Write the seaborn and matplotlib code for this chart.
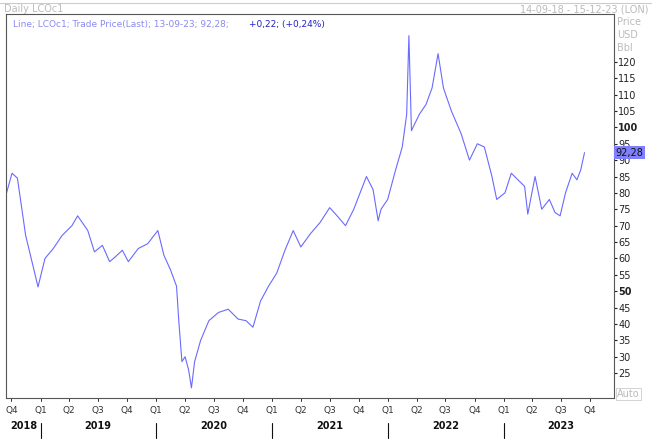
import matplotlib
matplotlib.use("Agg")
import matplotlib.pyplot as plt
import matplotlib.dates as mdates
import matplotlib.transforms as mtrans
import seaborn as sns
import pandas as pd
import numpy as np

# Hand-read values (date, price) from the reference
dates = ["2018-09-14", "2018-10-03", "2018-10-20", "2018-11-15", "2018-11-30", "2018-12-24",
         "2019-01-15", "2019-02-10", "2019-03-10", "2019-04-10", "2019-04-28", "2019-05-30",
         "2019-06-20", "2019-07-15", "2019-08-07", "2019-08-25", "2019-09-16", "2019-10-05",
         "2019-11-05", "2019-12-05", "2020-01-06", "2020-01-25", "2020-02-15", "2020-03-05",
         "2020-03-12", "2020-03-22", "2020-04-01", "2020-04-12", "2020-04-21", "2020-05-01",
         "2020-05-20", "2020-06-15", "2020-07-15", "2020-08-15", "2020-09-15", "2020-10-10",
         "2020-11-01", "2020-11-25", "2020-12-20", "2021-01-15", "2021-02-10", "2021-03-08",
         "2021-04-01", "2021-05-01", "2021-06-01", "2021-07-01", "2021-07-20", "2021-08-20",
         "2021-09-15", "2021-10-25", "2021-11-15", "2021-12-01", "2021-12-10", "2021-12-31",
         "2022-01-25", "2022-02-15", "2022-03-01", "2022-03-08", "2022-03-16", "2022-04-10",
         "2022-05-01", "2022-05-20", "2022-06-08", "2022-06-25", "2022-07-20", "2022-08-20",
         "2022-09-15", "2022-10-10", "2022-11-01", "2022-11-25", "2022-12-10", "2023-01-05",
         "2023-01-25", "2023-02-15", "2023-03-08", "2023-03-18", "2023-04-10", "2023-05-01",
         "2023-05-25", "2023-06-12", "2023-06-28", "2023-07-15", "2023-08-05", "2023-08-20",
         "2023-09-01", "2023-09-13"]
prices = [79.4, 86.0, 84.5, 67.0, 61.0, 51.3, 60.0, 63.0, 67.0, 70.0, 73.0, 68.5,
          62.0, 64.0, 59.0, 60.5, 62.5, 59.0, 63.0, 64.5, 68.5, 61.0, 56.5, 51.5,
          41.0, 28.5, 30.0, 26.0, 20.5, 28.5, 35.0, 41.0, 43.5, 44.5, 41.5, 41.0,
          39.0, 47.0, 51.5, 55.5, 62.5, 68.5, 63.5, 67.5, 71.0, 75.5, 73.5, 70.0,
          75.0, 85.0, 81.0, 71.5, 75.0, 78.0, 87.0, 94.0, 104.0, 128.0, 99.0, 104.0,
          107.0, 112.0, 122.5, 112.0, 105.0, 98.0, 90.0, 95.0, 94.0, 85.0, 78.0, 80.0,
          86.0, 84.0, 82.0, 73.5, 85.0, 75.0, 78.0, 74.0, 73.0, 80.0, 86.0, 84.0,
          87.0, 92.28]

df = pd.DataFrame({"date": pd.to_datetime(dates), "price": prices})

sns.set_style("white")
plt.rcParams["font.family"] = ["DejaVu Sans"]
fig = plt.figure(figsize=(6.52, 4.4), dpi=100)
ax = fig.add_axes([6 / 652, 1 - 398 / 440, 608 / 652, 384 / 440])
sns.lineplot(data=df, x="date", y="price", ax=ax, color="#6a6aff", linewidth=0.8)

ax.set_xlim(pd.Timestamp("2018-09-14"), pd.Timestamp("2023-12-15"))
ax.set_ylim(17.4, 134.6)
for s in ax.spines.values():
    s.set_color("#555555")
    s.set_linewidth(0.8)
ax.set_xlabel("")
ax.set_ylabel("")

# right price axis
ax.yaxis.tick_right()
yt = list(range(25, 125, 5))
ax.set_yticks(yt)
ax.set_yticklabels([str(v) for v in yt], fontsize=7)
for lab, v in zip(ax.get_yticklabels(), yt):
    if v in (50, 100):
        lab.set_fontweight("bold")
ax.tick_params(axis="y", length=2, pad=1, colors="#222222", direction="out", left=False, right=True)
ax.text(1.005, 0.0, "", transform=ax.transAxes)
ax.annotate("92,28", xy=(1.0, 92.28), xycoords=("axes fraction", "data"), xytext=(1, 0),
            textcoords="offset points", va="center", ha="left", fontsize=7, color="#111111",
            bbox=dict(boxstyle="square,pad=0.15", fc="#8080ff", ec="none"))
for i, t in enumerate(["Price", "USD", "Bbl"]):
    fig.text(617 / 652, 1 - (22 + i * 13) / 440, t, fontsize=7, color="#bbbbbb", va="center")
fig.text(617 / 652, 1 - 394 / 440, "Auto", fontsize=7, color="#bbbbbb", va="center",
         bbox=dict(boxstyle="square,pad=0.1", fc="white", ec="#cccccc", lw=0.6))

# quarter / year axis
ax.set_xticks([])
tr = mtrans.blended_transform_factory(ax.transData, ax.transAxes)
quarters = pd.date_range("2018-10-01", "2023-10-01", freq="QS")
qnames = {1: "Q1", 4: "Q2", 7: "Q3", 10: "Q4"}
for q in quarters:
    ax.plot([q, q], [0, -0.008], transform=tr, color="#333333", lw=0.7, clip_on=False)
    ax.text(q, -0.02, qnames[q.month], transform=tr, ha="center", va="top", fontsize=6.5,
            color="#333333")
years = [2018, 2019, 2020, 2021, 2022, 2023]
for y in years:
    if y > 2018:
        jan = pd.Timestamp(f"{y}-01-01")
        ax.plot([jan, jan], [-0.065, -0.105], transform=tr, color="#111111", lw=0.8, clip_on=False)
        mid = pd.Timestamp(f"{y}-07-01")
    else:
        mid = pd.Timestamp("2018-11-10")
    ax.text(mid, -0.06, str(y), transform=tr, ha="center", va="top", fontsize=7,
            fontweight="bold", color="#111111")

# headers
fig.text(4 / 652, 1 - 9 / 440, "Daily LCOc1", fontsize=7, color="#bbbbbb", va="center")
fig.text(648 / 652, 1 - 9 / 440, "14-09-18 - 15-12-23 (LON)", fontsize=7, color="#bbbbbb",
         va="center", ha="right")
ax.text(0.012, 0.985, "Line; LCOc1; Trade Price(Last); 13-09-23; 92,28;", transform=ax.transAxes,
        fontsize=6.5, color="#8a8aee", va="top")
ax.text(0.4, 0.985, "+0,22; (+0,24%)", transform=ax.transAxes, fontsize=6.5,
        color="#2222cc", va="top")
fig.add_artist(plt.Line2D([0, 1], [1 - 3 / 440, 1 - 3 / 440], color="#cccccc", lw=0.8))

fig.savefig("out.png", dpi=100)
